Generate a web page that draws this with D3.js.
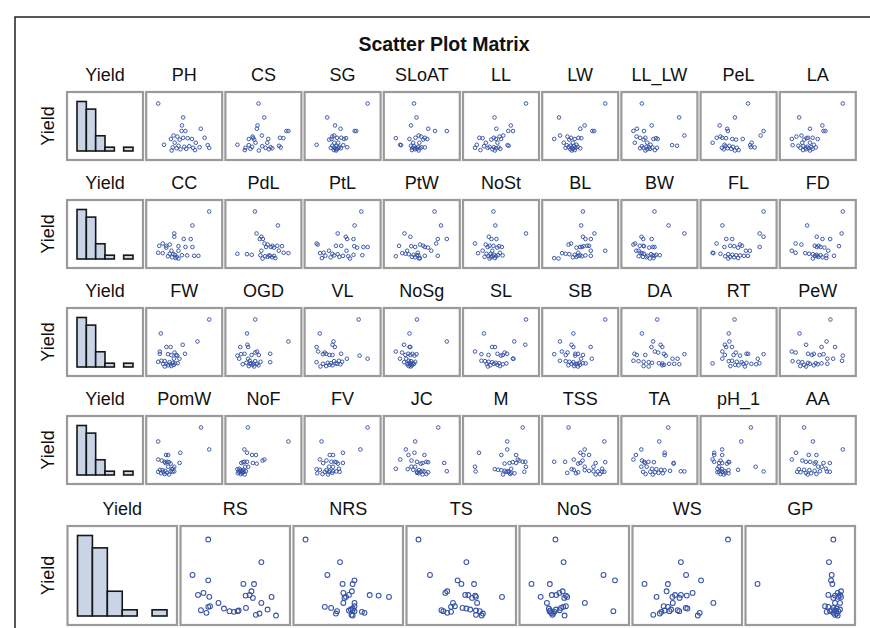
<!DOCTYPE html>
<html>
<head>
<meta charset="utf-8">
<script src="https://cdn.jsdelivr.net/npm/d3@7"></script>
<style>
  body { margin: 0; background: #fff; }
  svg { display: block; }
  text { font-family: "Liberation Sans", Arial, sans-serif; fill: #111; }
</style>
</head>
<body>
<svg id="chart" width="870" height="628"></svg>
<script>
// Yield of each of the 30 genotypes (shared vertical variable of every panel)
const yieldValues = [26.04, 18.96, 14.90, 13.23, 12.10, 12.06, 9.79, 9.27, 8.65, 8.62,
  8.44, 8.05, 8.02, 7.71, 6.15, 6.12, 5.10, 4.90, 4.58, 4.38,
  4.06, 3.85, 3.75, 3.56, 3.54, 3.33, 3.02, 2.81, 2.40, 2.19];
const yieldBinEdges = [0, 5, 10, 15, 20, 25, 30];

// Trait values, one per genotype, in the same order as yieldValues
const PH    = [2,67,64,113,63,73,42,52,123,67,79,35,90,58,45,100,17,131,55,83,70,110,40,93,135,50,75,60,98,37];
const CS    = [49,66,46,44,138,132,59,31,113,33,123,78,20,36,40,75,-14,20,110,60,30,85,115,10,70,90,25,80,8,50];
const SG    = [130,27,47,61,97,101,45,40,63,52,75,38,70,32,55,45,0,68,40,50,58,78,45,55,36,62,48,52,44,50];
const SLoAT = [45,53,35,91,113,151,60,68,50,80,-14,30,88,75,42,62,0,3,35,45,58,70,80,40,50,65,55,48,38,60];
const LL    = [141,54,99,59,92,105,78,68,52,12,21,58,72,45,62,30,5,90,93,25,40,52,65,0,35,58,70,48,15,55];
const LW    = [133,7,77,65,98,103,10,30,40,60,68,-6,50,35,45,20,55,28,38,48,58,33,42,52,25,65,45,38,50,42];
const LL_LW = [15,121,43,1,-9,21,136,0,25,10,55,60,48,20,30,-5,40,101,115,15,28,35,45,58,20,10,38,30,52,25];
const PeL   = [90,55,14,34,36,132,124,16,6,21,31,76,48,58,100,-5,27,96,40,30,50,98,108,20,60,35,45,25,65,55];
const LA    = [130,17,77,45,80,85,23,10,40,52,36,-2,65,30,45,25,55,0,15,28,38,48,60,20,33,42,52,35,27,45];

const CC    = [146,98,46,46,73,93,13,33,23,3,58,78,98,23,38,58,0,13,33,43,48,68,83,103,115,28,53,40,50,58];
const PdL   = [46,118,51,66,71,61,76,86,101,116,131,96,81,106,121,66,136,151,-9,21,36,63,91,93,106,78,86,100,110,70];
const PtL   = [130,111,63,86,90,108,3,6,58,73,110,136,148,118,88,38,23,13,48,63,108,133,53,28,78,93,68,43,18,98];
const PtW   = [110,130,17,35,148,120,115,65,75,0,38,50,80,90,100,25,58,10,20,30,45,55,60,80,120,-10,40,50,65,62];
const NoSt  = [48,53,133,36,56,43,0,28,38,48,63,70,33,58,20,45,65,8,30,40,50,60,72,35,45,55,25,42,52,38];
const BL    = [79,74,111,79,86,101,46,39,91,96,81,71,76,61,101,141,66,21,31,41,56,71,86,101,66,76,61,51,-1,11];
const BW    = [63,103,148,26,31,55,8,3,21,31,33,58,63,48,18,11,23,28,33,53,68,78,58,43,63,18,30,40,60,50];
const FL    = [140,35,130,140,45,60,20,80,85,55,65,130,40,75,95,105,10,12,30,50,60,70,80,90,100,42,55,65,75,50];
const FD    = [136,43,133,68,83,103,13,28,63,73,126,68,78,88,98,3,13,38,48,58,68,78,93,113,63,68,73,83,93,58];

const FW    = [146,-2,110,65,15,28,-5,40,72,-5,20,45,30,48,38,55,0,10,-10,25,35,50,42,5,15,28,38,20,30,10];
const OGD   = [51,28,144,29,31,9,56,51,93,21,11,41,61,1,6,31,36,51,66,93,26,39,46,56,36,16,44,60,33,48];
const VL    = [120,-2,41,38,45,-12,-7,13,65,18,8,28,38,123,148,83,58,43,68,-12,23,33,48,8,53,63,28,38,18,0];
const NoSg  = [62,44,134,31,44,46,11,26,41,51,61,34,46,56,21,36,42,48,58,31,44,52,40,48,55,38,46,50,42,47];
const SL    = [135,17,102,133,40,48,-8,75,82,55,10,30,70,65,98,100,10,20,30,40,50,60,80,25,45,70,55,35,62,28];
const SB    = [136,53,18,48,98,53,23,38,58,65,3,78,33,58,73,101,18,33,43,53,68,78,85,63,48,58,70,40,55,65];
const DA    = [71,26,59,81,86,54,64,74,4,91,151,11,36,96,116,131,1,16,31,46,56,76,86,106,121,136,91,86,31,46];
const RT    = [56,38,40,26,48,30,18,60,93,98,146,26,53,73,18,128,48,38,63,78,93,133,-12,83,108,123,58,68,43,88];
const PeW   = [99,19,89,36,76,111,-1,9,41,56,81,51,71,131,91,106,129,1,16,26,41,61,76,91,46,66,31,56,21,36];

const PomW  = [120,0,143,62,22,28,0,10,18,25,30,60,20,35,28,45,42,38,5,12,20,35,45,40,0,15,25,8,18,30];
const NoF   = [18,123,9,16,29,39,61,56,9,16,6,1,31,41,11,19,-4,-9,-1,6,3,13,-6,1,8,-3,4,-8,0,10];
const FV    = [148,8,126,73,33,43,3,23,38,48,53,73,13,58,31,43,61,-7,3,23,33,43,53,63,18,31,41,-5,11,28];
const JC    = [118,56,31,54,81,38,16,46,61,86,91,134,76,71,46,56,4,36,51,66,76,141,81,61,71,91,61,66,86,76];
const M     = [138,91,91,5,73,118,123,128,138,146,108,98,118,83,-7,148,103,53,63,73,83,93,-5,143,88,95,103,113,100,78];
const TSS   = [44,126,81,71,91,78,56,76,11,36,128,71,106,66,81,101,121,51,56,81,91,101,111,121,126,66,41,61,116,106];
const TA    = [105,80,30,95,15,95,8,32,38,50,65,120,40,120,30,45,60,72,85,95,110,140,150,35,55,68,78,90,42,62];
const pH_1  = [111,81,21,-4,-4,21,-9,16,-4,41,43,11,21,36,11,126,6,21,71,41,16,29,151,11,21,6,31,41,16,26];
const AA    = [30,55,140,7,43,65,-5,25,35,47,63,85,103,60,70,80,92,15,30,45,60,75,95,103,10,20,35,50,65,40];

const RS    = [43,188,0,43,139,168,161,30,15,156,145,46,216,165,188,71,48,43,146,86,205,23,126,123,101,113,38,183,173,228];
const NRS   = [-4,89,55,128,96,123,121,98,113,169,193,105,221,101,128,98,128,48,65,123,118,123,113,81,128,148,155,78,120,123];
const TS    = [5,130,35,107,117,150,80,75,127,135,153,155,223,145,95,158,100,90,120,130,140,65,155,70,165,90,80,173,155,170];
const NoS   = [47,72,194,229,-26,30,69,59,50,36,79,2,83,74,137,21,79,71,64,27,49,60,31,224,29,44,34,40,38,75];
const WS    = [231,86,102,148,-26,46,42,122,86,68,104,11,60,82,186,61,33,46,101,106,56,76,36,81,51,26,144,21,1,138];
const GP    = [203,190,198,196,-25,200,226,216,188,223,208,218,226,203,223,208,178,188,203,213,223,198,208,193,218,183,203,213,208,216];

// Variables plotted against Yield, row by row
const rowVariables = [
  ["PH", "CS", "SG", "SLoAT", "LL", "LW", "LL_LW", "PeL", "LA"],
  ["CC", "PdL", "PtL", "PtW", "NoSt", "BL", "BW", "FL", "FD"],
  ["FW", "OGD", "VL", "NoSg", "SL", "SB", "DA", "RT", "PeW"],
  ["PomW", "NoF", "FV", "JC", "M", "TSS", "TA", "pH_1", "AA"],
  ["RS", "NRS", "TS", "NoS", "WS", "GP"]
];

const traitValues = {PH, CS, SG, SLoAT, LL, LW, LL_LW, PeL, LA,
  CC, PdL, PtL, PtW, NoSt, BL, BW, FL, FD,
  FW, OGD, VL, NoSg, SL, SB, DA, RT, PeW,
  PomW, NoF, FV, JC, M, TSS, TA, pH_1, AA,
  RS, NRS, TS, NoS, WS, GP};

// ---- layout of the five panel rows ----
const rowLayout = [
  {top: 92,  height: 68, left: 67,   width: 76,    step: 79.2, radius: 1.8, stroke: 0.95, padL: 12, padR: 13, padT: 11.5},
  {top: 200, height: 68, left: 67,   width: 76,    step: 79.2, radius: 1.8, stroke: 0.95, padL: 12, padR: 13, padT: 11.5},
  {top: 308, height: 68, left: 67,   width: 76,    step: 79.2, radius: 1.8, stroke: 0.95, padL: 12, padR: 13, padT: 11.5},
  {top: 416, height: 68, left: 67,   width: 76,    step: 79.2, radius: 1.8, stroke: 0.95, padL: 12, padR: 13, padT: 11.5},
  {top: 526, height: 99, left: 67.5, width: 109.5, step: 113,  radius: 2.4, stroke: 1.05, padL: 12, padR: 14, padT: 13.5}
];

const svg = d3.select("#chart");
const markerColor = "#3552a6";

// outer frame (top and left edges fall inside the view)
svg.append("path")
  .attr("d", "M15,628 V17 H870")
  .attr("fill", "none")
  .attr("stroke", "#222")
  .attr("stroke-width", 1.5);

svg.append("text")
  .attr("x", 444).attr("y", 51)
  .attr("text-anchor", "middle")
  .style("font-weight", "bold")
  .style("font-size", "19.5px")
  .text("Scatter Plot Matrix");

const yieldBins = d3.bin()
  .domain([yieldBinEdges[0], yieldBinEdges[yieldBinEdges.length - 1]])
  .thresholds(yieldBinEdges.slice(1, -1))(yieldValues);

rowLayout.forEach((L, r) => {
  const columns = ["Yield"].concat(rowVariables[r]);
  const row = svg.append("g");

  // rotated row label
  row.append("text")
    .attr("transform", `translate(54,${L.top + L.height / 2}) rotate(-90)`)
    .attr("text-anchor", "middle")
    .style("font-size", "18px")
    .text("Yield");

  const yScatter = d3.scaleLinear()
    .domain(d3.extent(yieldValues))
    .range([L.height - 9.5, L.padT]);

  columns.forEach((name, c) => {
    const x0 = L.left + c * L.step;
    const g = row.append("g").attr("transform", `translate(${x0},${L.top})`);

    g.append("text")
      .attr("x", L.width / 2).attr("y", -11)
      .attr("text-anchor", "middle")
      .style("font-size", "18px")
      .text(name);

    g.append("rect")
      .attr("width", L.width).attr("height", L.height)
      .attr("fill", "#fff");

    if (c === 0) {
      const xh = d3.scaleLinear()
        .domain([yieldBinEdges[0], yieldBinEdges[yieldBinEdges.length - 1]])
        .range([10, L.width - 10]);
      const yh = d3.scaleLinear()
        .domain([0, d3.max(yieldBins, b => b.length)])
        .range([L.height - 9, 9.5]);
      g.selectAll("rect.bar")
        .data(yieldBins.filter(b => b.length > 0))
        .join("rect")
        .attr("class", "bar")
        .attr("x", b => xh(b.x0))
        .attr("width", b => xh(b.x1) - xh(b.x0))
        .attr("y", b => yh(b.length))
        .attr("height", b => yh(0) - yh(b.length))
        .attr("fill", "#c9d4e7")
        .attr("stroke", "#161616")
        .attr("stroke-width", 1.6);
    } else {
      const values = traitValues[name];
      const xs = d3.scaleLinear()
        .domain(d3.extent(values))
        .range([L.padL, L.width - L.padR]);
      g.selectAll("circle")
        .data(values.map((v, i) => [v, yieldValues[i]]))
        .join("circle")
        .attr("cx", d => xs(d[0]))
        .attr("cy", d => yScatter(d[1]))
        .attr("r", L.radius)
        .attr("fill", "none")
        .attr("stroke", markerColor)
        .attr("stroke-width", L.stroke);
    }

    g.append("rect")
      .attr("width", L.width).attr("height", L.height)
      .attr("fill", "none")
      .attr("stroke", "#9a9a9a")
      .attr("stroke-width", 2.2);
  });
});
</script>
</body>
</html>
